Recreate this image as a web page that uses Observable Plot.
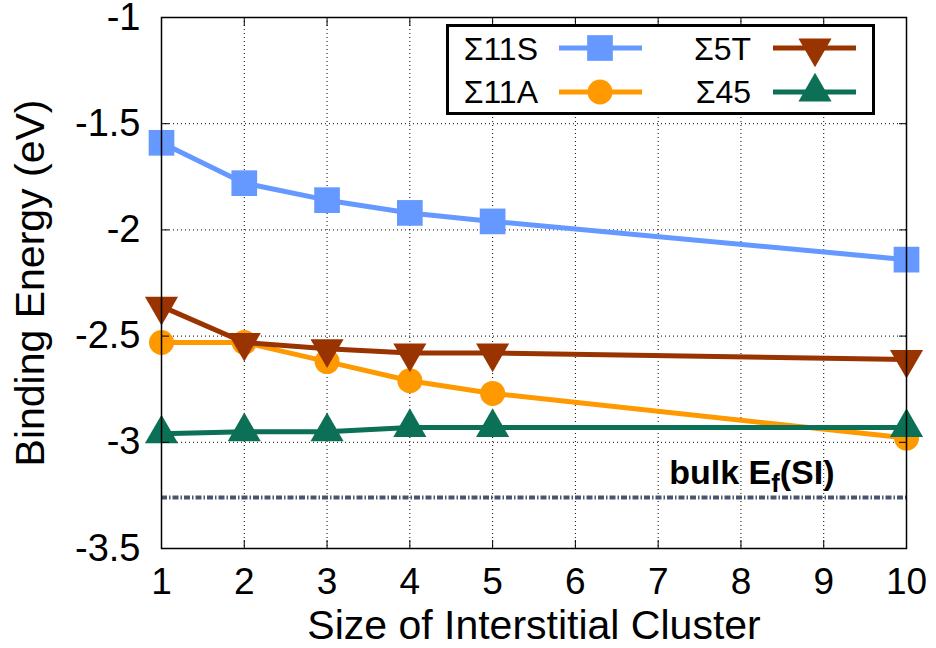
<!DOCTYPE html>
<html><head><meta charset="utf-8">
<script src="https://cdn.jsdelivr.net/npm/d3@7"></script>
<script src="https://cdn.jsdelivr.net/npm/@observablehq/plot@0.6"></script>
<style>
body{margin:0;background:#fff;}
#wrap{position:relative;width:936px;height:648px;overflow:hidden;}
#wrap svg{display:block;}
#legend{position:absolute;left:0;top:0;pointer-events:none;}
</style></head><body><div id="wrap"></div>
<script>
// ---- data ----
const clusterSizes = [1, 2, 3, 4, 5, 10];
const sigma11S = [-1.59, -1.78, -1.86, -1.92, -1.96, -2.14];
const sigma11A = [-2.53, -2.53, -2.62, -2.71, -2.77, -2.98];
const sigma5T  = [-2.36, -2.53, -2.56, -2.58, -2.58, -2.61];
const sigma45  = [-2.96, -2.95, -2.95, -2.93, -2.93, -2.93];
const bulkEf = -3.26;
const bulkLabelX = 7;
const seriesNames = ["Σ11S", "Σ11A", "Σ5T", "Σ45"];
const seriesColors = ["#6699ff", "#ff9900", "#993300", "#0b7055"];
const xTicks = [1, 2, 3, 4, 5, 6, 7, 8, 9, 10];
const yTicks = [-1, -1.5, -2, -2.5, -3, -3.5];

const seriesValues = [sigma11S, sigma11A, sigma5T, sigma45];
const rows = [];
seriesNames.forEach((name, i) => clusterSizes.forEach((x, j) => rows.push({series: name, x, y: seriesValues[i][j]})));

const font = '"Liberation Sans", Arial, Helvetica, sans-serif';
const symbolOpts = {
  "Σ11S": {symbol: "square", r: 14.5, rotate: 0},
  "Σ11A": {symbol: "circle", r: 12.5, rotate: 0},
  "Σ5T":  {symbol: "triangle", r: 12.3, rotate: 180},
  "Σ45":  {symbol: "triangle", r: 12.3, rotate: 0}
};

const seriesMarks = [];
seriesNames.forEach(name => {
  const d = rows.filter(r => r.series === name);
  seriesMarks.push(Plot.line(d, {x: "x", y: "y", stroke: "series", strokeWidth: 5, strokeLinejoin: "round"}));
  const s = symbolOpts[name];
  seriesMarks.push(Plot.dot(d, {x: "x", y: "y", fill: "series", symbol: s.symbol, r: s.r, rotate: s.rotate, stroke: "none"}));
});

const tickFmt = d => String(d);
const plot = Plot.plot({
  width: 936, height: 648,
  marginLeft: 161, marginRight: 30, marginTop: 17, marginBottom: 100,
  style: {fontFamily: font, background: "white", color: "black", overflow: "visible"},
  x: {domain: [1, 10]},
  y: {domain: [-3.5, -1]},
  color: {domain: seriesNames, range: seriesColors},
  marks: [
    Plot.gridX(xTicks, {stroke: "black", strokeOpacity: 1, strokeWidth: 1, strokeDasharray: "1,3"}),
    Plot.gridY(yTicks, {stroke: "black", strokeOpacity: 1, strokeWidth: 1, strokeDasharray: "1,3"}),
    Plot.ruleY([bulkEf], {stroke: "#4a5670", strokeWidth: 4, strokeDasharray: "6,2,1.5,2"}),
    Plot.text([{x: bulkLabelX, y: bulkEf}], {x: "x", y: "y", text: () => "bulk Ef(SI)", textAnchor: "start", lineAnchor: "bottom", dx: 11, dy: -14, fontSize: 34, fontWeight: "bold", fill: "black"}),
    ...seriesMarks,
    Plot.axisX(xTicks, {anchor: "bottom", tickSize: 0, tickPadding: 19, fontSize: 37, label: null, tickFormat: tickFmt}),
    Plot.axisX(xTicks, {anchor: "bottom", tickSize: -8, tickFormat: () => "", label: null}),
    Plot.axisX(xTicks, {anchor: "top", tickSize: -8, tickFormat: () => "", label: null}),
    Plot.axisY(yTicks, {anchor: "left", tickSize: 0, tickPadding: 21, fontSize: 38, label: null, tickFormat: tickFmt}),
    Plot.axisY(yTicks, {anchor: "left", tickSize: -8, tickFormat: () => "", label: null}),
    Plot.axisY(yTicks, {anchor: "right", tickSize: -8, tickFormat: () => "", label: null}),
    Plot.frame({stroke: "black", strokeWidth: 1.5}),
    Plot.text(["Size of Interstitial Cluster"], {text: d => d, frameAnchor: "bottom", textAnchor: "middle", dy: 90, lineAnchor: "bottom", fontSize: 41, fill: "black"}),
    Plot.text(["Binding Energy (eV)"], {text: d => d, frameAnchor: "left", textAnchor: "middle", rotate: -90, dx: -118, lineAnchor: "bottom", fontSize: 41, fill: "black"})
  ]
});
document.getElementById("wrap").appendChild(plot);

// subscript f in bulk label
d3.select(plot).selectAll("text").filter(function() { return this.textContent === "bulk Ef(SI)"; }).each(function() {
  const t = d3.select(this);
  t.text("");
  t.append("tspan").text("bulk E");
  t.append("tspan").attr("dy", 8).attr("font-size", "75%").text("f");
  t.append("tspan").attr("dy", -8).text("(SI)");
});

// legend overlay
const lg = d3.select("#wrap").append("svg").attr("id", "legend").attr("width", 936).attr("height", 648)
  .style("font-family", font);
lg.append("rect").attr("x", 447.5).attr("y", 25.5).attr("width", 426).attr("height", 88)
  .attr("fill", "white").attr("stroke", "black").attr("stroke-width", 3);
const cols = [{textX: 538, lineX1: 559, lineX2: 642, markX: 600}, {textX: 751, lineX1: 773, lineX2: 856, markX: 815}];
const rowsY = [{text: 60, line: 48}, {text: 103, line: 92}];
seriesNames.forEach((name, i) => {
  const c = cols[Math.floor(i / 2)], r = rowsY[i % 2];
  lg.append("text").attr("x", c.textX).attr("y", r.text).attr("text-anchor", "end").attr("font-size", 32).text(name);
  lg.append("line").attr("x1", c.lineX1).attr("x2", c.lineX2).attr("y1", r.line).attr("y2", r.line)
    .attr("stroke", seriesColors[i]).attr("stroke-width", 5);
  const s = symbolOpts[name];
  const sym = s.symbol === "square" ? d3.symbolSquare : s.symbol === "circle" ? d3.symbolCircle : d3.symbolTriangle;
  lg.append("path").attr("d", d3.symbol(sym, Math.PI * s.r * s.r)())
    .attr("transform", `translate(${c.markX},${r.line}) rotate(${s.rotate})`)
    .attr("fill", seriesColors[i]);
});
</script>
</body></html>
